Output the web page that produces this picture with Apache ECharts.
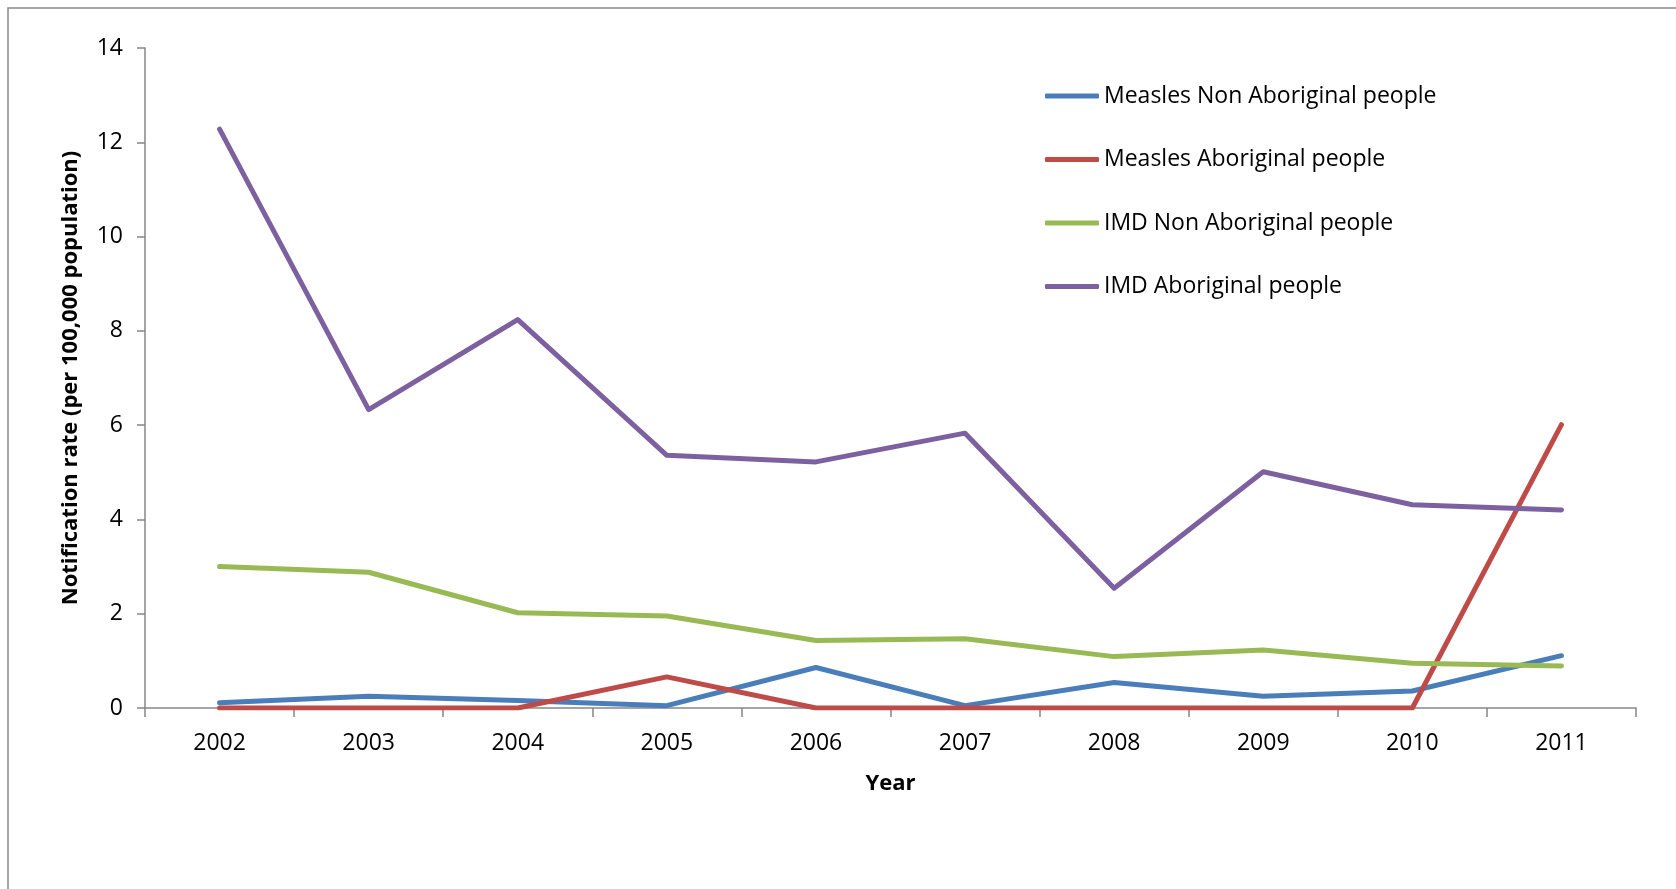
<!DOCTYPE html>
<html>
<head>
<meta charset="utf-8">
<script src="https://cdn.jsdelivr.net/npm/echarts@6/dist/echarts.min.js"></script>
<style>
html,body{margin:0;padding:0;background:#fff;}
#chart{width:1676px;height:889px;}
</style>
</head>
<body>
<div id="chart"></div>
<script>
const years = ['2002','2003','2004','2005','2006','2007','2008','2009','2010','2011'];
const seriesNames = ['Measles Non Aboriginal people','Measles Aboriginal people','IMD Non Aboriginal people','IMD Aboriginal people'];
const measlesNonAboriginal = [0.11,0.25,0.16,0.05,0.86,0.05,0.54,0.25,0.36,1.11];
const measlesAboriginal = [0,0,0,0.66,0,0,0,0,0,6.01];
const imdNonAboriginal = [3.0,2.88,2.02,1.95,1.43,1.47,1.09,1.23,0.95,0.89];
const imdAboriginal = [12.28,6.33,8.24,5.36,5.22,5.83,2.54,5.01,4.31,4.20];
const colors = ['#4a7ebb','#be4b48','#98b954','#7d60a0'];
const yTicks = {min:0,max:14,interval:2};

const chart = echarts.init(document.getElementById('chart'));
const dataSets = [measlesNonAboriginal, measlesAboriginal, imdNonAboriginal, imdAboriginal];
const font = '"Open Sans", "Liberation Sans", sans-serif';
chart.setOption({
  animation:false,
  backgroundColor:'#fff',
  graphic:[{type:'rect',shape:{x:8,y:8,width:1700,height:900},style:{fill:'none',stroke:'#898989',lineWidth:1.5},silent:true}],
  grid:{left:145,right:40,top:48,bottom:181,containLabel:false},
  legend:{
    orient:'vertical',left:1040,top:78,itemWidth:54,itemHeight:5,itemGap:37.5,
    icon:'roundRect',
    data:seriesNames,
    textStyle:{fontFamily:font,fontSize:23,color:'#000',lineHeight:26}
  },
  xAxis:{
    type:'category',data:years,boundaryGap:true,
    name:'Year',nameLocation:'middle',nameGap:65,
    nameTextStyle:{fontFamily:font,fontSize:22,fontWeight:'bold',color:'#000'},
    axisLine:{lineStyle:{color:'#868686',width:1.5}},
    axisTick:{show:true,alignWithLabel:false,length:9,lineStyle:{color:'#868686',width:1.5}},
    axisLabel:{fontFamily:font,fontSize:23,color:'#000',margin:24},
    splitLine:{show:false}
  },
  yAxis:{
    type:'value',min:yTicks.min,max:yTicks.max,interval:yTicks.interval,
    name:'Notification rate (per 100,000 population)',nameLocation:'middle',nameGap:63,nameRotate:90,
    nameTextStyle:{fontFamily:font,fontSize:22,fontWeight:'bold',color:'#000'},
    axisLine:{show:true,lineStyle:{color:'#868686',width:1.5}},
    axisTick:{show:true,length:8,lineStyle:{color:'#868686',width:1.5}},
    axisLabel:{fontFamily:font,fontSize:23,color:'#000',margin:22},
    splitLine:{show:false}
  },
  series:seriesNames.map((n,i)=>({
    name:n,type:'line',data:dataSets[i],showSymbol:false,symbol:'none',
    lineStyle:{color:colors[i],width:5,cap:'round',join:'round'},
    itemStyle:{color:colors[i]}
  }))
});
</script>
</body>
</html>
